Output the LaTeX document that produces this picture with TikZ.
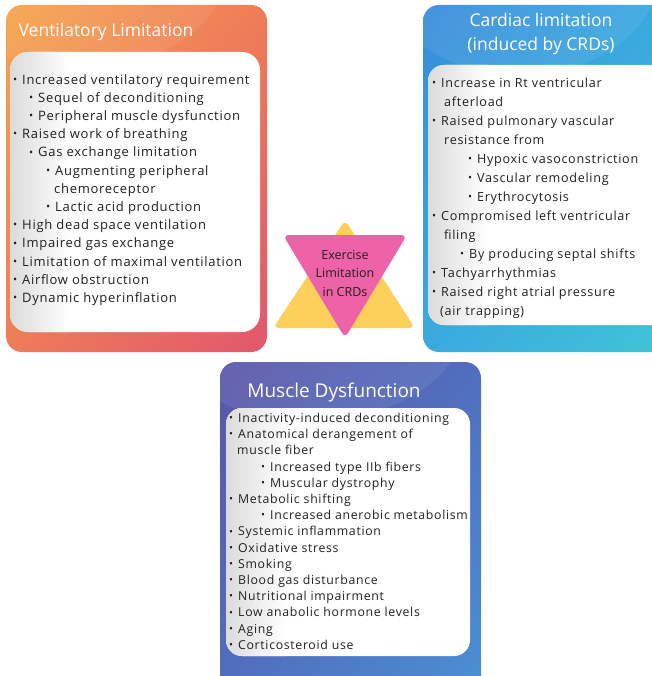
\documentclass[tikz,border=0pt]{standalone}
\usepackage{fontspec}
\setmainfont{Open Sans}[LetterSpace=5.5]
\newfontfamily\titlefont{Open Sans}
\usetikzlibrary{positioning,shadings}
\definecolor{vlOrange}{RGB}{246,164,76}
\definecolor{vlCoral}{RGB}{238,124,88}
\definecolor{vlRose}{RGB}{226,86,110}
\definecolor{clBlue}{RGB}{56,140,218}
\definecolor{clSky}{RGB}{58,170,224}
\definecolor{clTeal}{RGB}{64,196,214}
\definecolor{mdPurple}{RGB}{92,86,168}
\definecolor{mdIndigo}{RGB}{80,110,190}
\definecolor{mdBlue}{RGB}{74,144,212}
\definecolor{crYellow}{RGB}{253,208,92}
\definecolor{crPink}{RGB}{238,98,168}
\definecolor{txDark}{RGB}{35,31,32}
\newcommand{\bul}{\makebox[9pt][l]{\raisebox{0.12ex}{\scalebox{0.85}{\textbullet}}}}
\newcommand{\ind}[1]{\hspace*{#1pt}}
\tikzset{
  paneltitle/.style={text=white, align=center, inner sep=0pt},
  listtext/.style={text=txDark, align=left, inner sep=0pt, anchor=north west},
  gloss/.style={white, opacity=0.07},
}
\begin{document}
\begin{tikzpicture}[x=1pt, y=-1pt]
  \useasboundingbox (0,0) rectangle (651,676);

  % Ventilatory limitation
  \shade[rounded corners=16pt, upper left=vlOrange, upper right=vlCoral,
    lower left=vlCoral, lower right=vlRose] (6,5) rectangle (267,352);
  \begin{scope}
    \clip[rounded corners=16pt] (6,5) rectangle (267,352);
    \fill[gloss] (80,-40) ellipse (150 and 110);
  \end{scope}
  \fill[white, rounded corners=18pt] (10,52) rectangle (260,332);
  \begin{scope}
    \clip[rounded corners=18pt] (10,52) rectangle (260,332);
    \shade[left color=black!14, right color=white] (10,52) rectangle (70,332);
  \end{scope}
  \node[paneltitle, font=\titlefont\fontsize{17.5}{20}\selectfont] (venttitle) at (106,32) {Ventilatory Limitation};
  \node[listtext, font=\fontsize{13}{18.2}\selectfont] (ventlist) at (13,74) {%
    \bul Increased ventilatory requirement\\
    \ind{16}\bul Sequel of deconditioning\\
    \ind{16}\bul Peripheral muscle dysfunction\\
    \bul Raised work of breathing\\
    \ind{16}\bul Gas exchange limitation\\
    \ind{33}\bul Augmenting peripheral\\
    \ind{41}chemoreceptor\\
    \ind{33}\bul Lactic acid production\\
    \bul High dead space ventilation\\
    \bul Impaired gas exchange\\
    \bul Limitation of maximal ventilation\\
    \bul Airflow obstruction\\
    \bul Dynamic hyperinflation};

  % Cardiac limitation
  \shade[rounded corners=16pt, upper left=clBlue, upper right=clSky,
    lower left=clSky, lower right=clTeal] (423,5) rectangle (667,352);
  \begin{scope}
    \clip[rounded corners=16pt] (423,5) rectangle (667,352);
    \fill[gloss] (520,-30) ellipse (140 and 105);
  \end{scope}
  \fill[white, rounded corners=16pt] (428,65) rectangle (667,325);
  \begin{scope}
    \clip[rounded corners=16pt] (428,65) rectangle (667,325);
    \shade[left color=black!14, right color=white] (428,65) rectangle (488,325);
  \end{scope}
  \node[paneltitle, font=\titlefont\fontsize{17.5}{24}\selectfont] (cardtitle) at (541,34) {Cardiac limitation\\(induced by CRDs)};
  \node[listtext, font=\fontsize{12.6}{19}\selectfont] (cardlist) at (432,78) {%
    \bul Increase in Rt ventricular\\
    \ind{12}afterload\\
    \bul Raised pulmonary vascular\\
    \ind{12}resistance from\\
    \ind{36}\bul Hypoxic vasoconstriction\\
    \ind{36}\bul Vascular remodeling\\
    \ind{36}\bul Erythrocytosis\\
    \bul Compromised left ventricular\\
    \ind{12}filing\\
    \ind{28}\bul By producing septal shifts\\
    \bul Tachyarrhythmias\\
    \bul Raised right atrial pressure\\
    \ind{8}(air trapping)};

  % Muscle dysfunction
  \shade[rounded corners=16pt, upper left=mdPurple, upper right=mdIndigo,
    lower left=mdIndigo, lower right=mdBlue] (220,362) rectangle (481,692);
  \begin{scope}
    \clip[rounded corners=16pt] (220,362) rectangle (481,692);
    \fill[gloss] (310,330) ellipse (150 and 90);
  \end{scope}
  \fill[white, rounded corners=16pt] (226,408) rectangle (470,656);
  \begin{scope}
    \clip[rounded corners=16pt] (226,408) rectangle (470,656);
    \shade[left color=black!14, right color=white] (226,408) rectangle (286,656);
  \end{scope}
  \node[paneltitle, font=\titlefont\fontsize{19}{22}\selectfont] (musctitle) at (334,393) {Muscle Dysfunction};
  \node[listtext, font=\fontsize{12.3}{16.2}\selectfont] (musclist) at (229,413) {%
    \bul Inactivity-induced deconditioning\\
    \bul Anatomical derangement of\\
    \ind{8}muscle fiber\\
    \ind{32}\bul Increased type IIb fibers\\
    \ind{32}\bul Muscular dystrophy\\
    \bul Metabolic shifting\\
    \ind{32}\bul Increased anerobic metabolism\\
    \bul Systemic inflammation\\
    \bul Oxidative stress\\
    \bul Smoking\\
    \bul Blood gas disturbance\\
    \bul Nutritional impairment\\
    \bul Low anabolic hormone levels\\
    \bul Aging\\
    \bul Corticosteroid use};

  % Centre: exercise limitation
  \fill[crYellow, rounded corners=6pt] (345,220) -- (415,328) -- (273,328) -- cycle;
  \fill[crPink, rounded corners=6pt] (283,235) -- (407,235) -- (345,338) -- cycle;
  \node[text=txDark, align=center, inner sep=0pt, font=\titlefont\fontsize{12.5}{18.5}\selectfont] (core) at (345,273) {Exercise\\Limitation\\in CRDs};
\end{tikzpicture}
\end{document}
